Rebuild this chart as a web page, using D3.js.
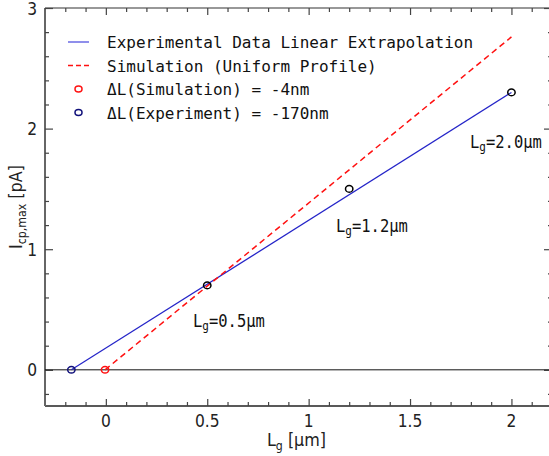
<!DOCTYPE html>
<html>
<head>
<meta charset="utf-8">
<script src="https://cdn.jsdelivr.net/npm/d3@7"></script>
<style>
  html, body { margin: 0; padding: 0; background: #fff; }
  svg { display: block; }
</style>
</head>
<body>
<svg id="chart" width="549" height="456"></svg>
<script>
// Measured gate lengths (µm) and peak charge-pumping current (pA)
const gateLengths = [0.5, 1.2, 2.0];
const peakCurrents = [0.70, 1.50, 2.30];
const gateLabels = ["0.5μm", "1.2μm", "2.0μm"];

// Linear extrapolation of the experimental data
const expLineX = [-0.17, 2.0];
const expLineY = [0, 2.30];
// Simulation with a uniform doping profile
const simLineX = [-0.004, 2.0];
const simLineY = [0, 2.76];

// Extrapolated zero-current intercepts (µm)
const simIntercept = -0.004;
const expIntercept = -0.17;

const legendLabels = [
  "Experimental Data Linear Extrapolation",
  "Simulation (Uniform Profile)",
  "ΔL(Simulation) = -4nm",
  "ΔL(Experiment) = -170nm"
];

const xMajorTicks = [0, 0.5, 1, 1.5, 2];
const yMajorTicks = [0, 1, 2, 3];

const xDomain = [-0.3, 2.2];
const yDomain = [-0.3, 3];

const svg = d3.select("#chart");
const plotL = 45, plotT = 8, plotR = 552, plotB = 406;

const x = d3.scaleLinear().domain(xDomain).range([plotL, plotR]);
const y = d3.scaleLinear().domain(yDomain).range([plotB, plotT]);

const blueLine = "#2424c8", blueMark = "#10107a", red = "#ff1010";
const sans = "'DejaVu Sans', sans-serif";
const mono = "'DejaVu Sans Mono', monospace";

// Minor tick values
const xMinor = d3.range(-2, 22).map(i => i / 10).filter(v => !xMajorTicks.some(m => Math.abs(m - v) < 1e-9));
const yMinor = d3.range(-1, 15).map(i => i / 5).filter(v => !yMajorTicks.some(m => Math.abs(m - v) < 1e-9));

// Frame
svg.append("line").attr("x1", plotL).attr("x2", plotR).attr("y1", plotB).attr("y2", plotB)
  .attr("stroke", "#222").attr("stroke-width", 1.5);
svg.append("line").attr("x1", plotL).attr("x2", plotR).attr("y1", plotT).attr("y2", plotT)
  .attr("stroke", "#333").attr("stroke-width", 1.2);
svg.append("line").attr("x1", plotL).attr("x2", plotL).attr("y1", plotT).attr("y2", plotB)
  .attr("stroke", "#666").attr("stroke-width", 2);
svg.append("line").attr("x1", plotR).attr("x2", plotR).attr("y1", plotT).attr("y2", plotB)
  .attr("stroke", "#666").attr("stroke-width", 2);

// Inward ticks on all four sides, drawn with d3 axes
function tickAxis(gen, tx, ty, vals, size) {
  const g = svg.append("g").attr("transform", `translate(${tx},${ty})`)
    .call(gen.tickValues(vals).tickSize(size).tickFormat(""));
  g.select(".domain").remove();
  g.selectAll(".tick line").attr("stroke", "#444").attr("stroke-width", 1.2);
  return g;
}
tickAxis(d3.axisTop(x), 0, plotB, xMajorTicks, 7);
tickAxis(d3.axisTop(x), 0, plotB, xMinor, 4);
tickAxis(d3.axisBottom(x), 0, plotT, xMajorTicks, 7);
tickAxis(d3.axisBottom(x), 0, plotT, xMinor, 4);
tickAxis(d3.axisRight(y), plotL, 0, yMajorTicks, 8);
tickAxis(d3.axisRight(y), plotL, 0, yMinor, 4);
tickAxis(d3.axisLeft(y), plotR, 0, yMajorTicks, 8);
tickAxis(d3.axisLeft(y), plotR, 0, yMinor, 4);

// Tick labels
svg.append("g").selectAll("text").data(xMajorTicks).join("text")
  .attr("transform", d => `translate(${x(d)},${plotB + 21}) scale(1,1.18)`)
  .attr("text-anchor", "middle")
  .attr("font-family", sans).attr("font-size", 15.5).attr("fill", "#222")
  .text(d => d3.format("")(d));
svg.append("g").selectAll("text").data(yMajorTicks).join("text")
  .attr("transform", d => `translate(${plotL - 8},${y(d) + 6.5}) scale(1,1.18)`)
  .attr("text-anchor", "end")
  .attr("font-family", sans).attr("font-size", 15.5).attr("fill", "#222")
  .text(d => d);

// Axis titles
const xt = svg.append("text")
  .attr("transform", `translate(${(plotL + 548) / 2},446) scale(1,1.1)`)
  .attr("text-anchor", "middle").attr("font-family", sans).attr("font-size", 16).attr("fill", "#222");
xt.append("tspan").text("L");
xt.append("tspan").attr("font-size", 11).attr("dy", 4).text("g");
xt.append("tspan").attr("dy", -4).text(" [μm]");

const yt = svg.append("text")
  .attr("transform", `translate(22,${(plotT + plotB) / 2}) rotate(-90) scale(1,1.1)`)
  .attr("text-anchor", "middle").attr("font-family", sans).attr("font-size", 16).attr("fill", "#222");
yt.append("tspan").text("I");
yt.append("tspan").attr("font-size", 11).attr("dy", 4).text("cp,max");
yt.append("tspan").attr("dy", -4).text(" [pA]");

// Zero line
svg.append("line").attr("x1", plotL).attr("x2", plotR).attr("y1", y(0)).attr("y2", y(0))
  .attr("stroke", "#111").attr("stroke-width", 1);

const line = d3.line().x(d => x(d[0])).y(d => y(d[1]));

// Experimental linear extrapolation
svg.append("path").datum(d3.zip(expLineX, expLineY)).attr("d", line)
  .attr("fill", "none").attr("stroke", blueLine).attr("stroke-width", 1.2);
// Simulation line
svg.append("path").datum(d3.zip(simLineX, simLineY)).attr("d", line)
  .attr("fill", "none").attr("stroke", red).attr("stroke-width", 1.5)
  .attr("stroke-dasharray", "6,4");

// Intercept markers
svg.append("ellipse").attr("cx", x(simIntercept)).attr("cy", y(0)).attr("rx", 3.7).attr("ry", 3.3)
  .attr("fill", "none").attr("stroke", red).attr("stroke-width", 1.5);
svg.append("ellipse").attr("cx", x(expIntercept)).attr("cy", y(0)).attr("rx", 3.7).attr("ry", 3.3)
  .attr("fill", "none").attr("stroke", blueMark).attr("stroke-width", 1.5);

// Measured points
svg.append("g").selectAll("ellipse").data(d3.zip(gateLengths, peakCurrents)).join("ellipse")
  .attr("cx", d => x(d[0])).attr("cy", d => y(d[1])).attr("rx", 3.7).attr("ry", 3.3)
  .attr("fill", "none").attr("stroke", "#000").attr("stroke-width", 1.5);

// Gate-length annotations
const labelPos = [[193, 327], [336, 232], [470, 148]];
gateLabels.forEach((t, i) => {
  const tx = svg.append("text")
    .attr("transform", `translate(${labelPos[i][0]},${labelPos[i][1]}) scale(1,1.15)`)
    .attr("font-family", mono).attr("font-size", 15.5).attr("fill", "#111");
  tx.append("tspan").text("L");
  tx.append("tspan").attr("font-size", 11).attr("dy", 3).text("g");
  tx.append("tspan").attr("dy", -3).text("=" + t);
});

// Legend
const legY = [42, 65.5, 89, 112.5];
const lg = svg.append("g");
lg.append("line").attr("x1", 68).attr("x2", 89).attr("y1", legY[0]).attr("y2", legY[0])
  .attr("stroke", "#4444dd").attr("stroke-width", 1.2);
lg.append("line").attr("x1", 68).attr("x2", 89).attr("y1", legY[1]).attr("y2", legY[1])
  .attr("stroke", red).attr("stroke-width", 1.5).attr("stroke-dasharray", "5,3");
lg.append("ellipse").attr("cx", 78.5).attr("cy", legY[2]).attr("rx", 3.5).attr("ry", 3)
  .attr("fill", "none").attr("stroke", red).attr("stroke-width", 1.5);
lg.append("ellipse").attr("cx", 78.5).attr("cy", legY[3]).attr("rx", 3.5).attr("ry", 3)
  .attr("fill", "none").attr("stroke", blueMark).attr("stroke-width", 1.5);
lg.selectAll("text").data(legendLabels).join("text")
  .attr("x", 107).attr("y", (d, i) => legY[i] + 6)
  .attr("font-family", mono).attr("font-size", 16).attr("fill", "#111")
  .text(d => d);
</script>
</body>
</html>
